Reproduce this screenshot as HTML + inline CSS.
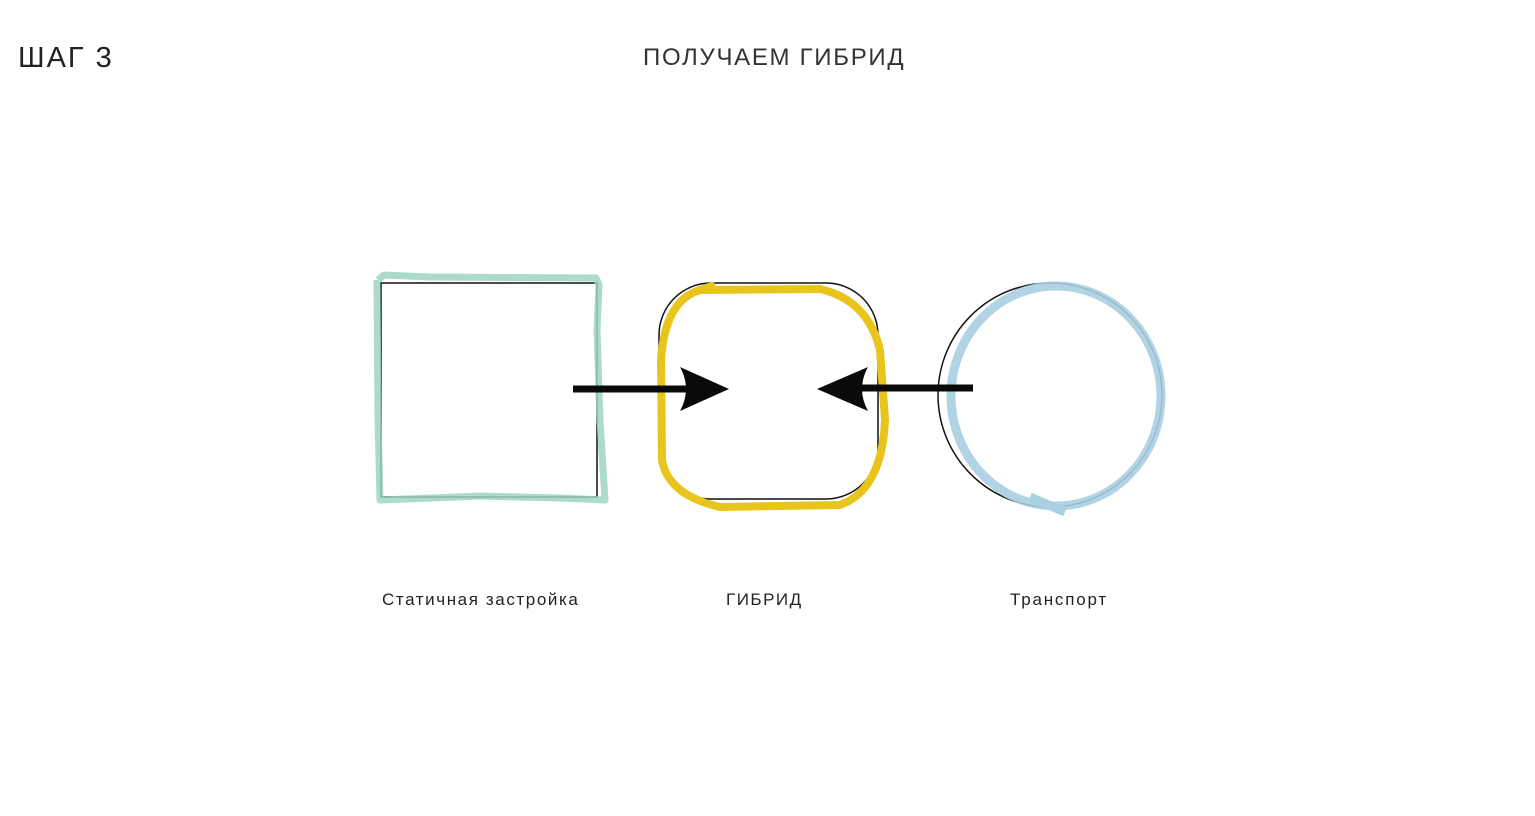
<!DOCTYPE html>
<html><head><meta charset="utf-8"><style>
body{margin:0;background:#fff;width:1535px;height:816px;overflow:hidden;font-family:"Liberation Sans",sans-serif;color:#222}
.t{position:absolute;white-space:nowrap}
</style></head><body>
<div class="t" style="left:18px;top:42px;font-size:29px;letter-spacing:2px;color:#222">ШАГ 3</div>
<div class="t" style="left:643px;top:44px;font-size:24px;letter-spacing:1.7px;color:#333">ПОЛУЧАЕМ ГИБРИД</div>
<div class="t" style="left:382px;top:590px;font-size:17px;letter-spacing:1.6px">Статичная застройка</div>
<div class="t" style="left:726px;top:590px;font-size:17px;letter-spacing:1.5px">ГИБРИД</div>
<div class="t" style="left:1010px;top:590px;font-size:17px;letter-spacing:1.8px">Транспорт</div>
<svg width="1535" height="816" style="position:absolute;left:0;top:0">
<path d="M381 283 H597 V497 H381 Z" fill="none" stroke="#111" stroke-width="1.5"/>
<path d="M378 280 L384 275 L430 277 L596 278 L599 285 L597 330 L600 420 L605 500 L560 498 L480 496 L380 500 L378 420 L377 280" fill="none" stroke="#9ed6bf" stroke-opacity="0.85" stroke-width="7" stroke-linejoin="round"/>
<rect x="659" y="283" width="219" height="216" rx="52" fill="none" stroke="#111" stroke-width="1.5"/>
<path d="M715 285 L700 290 L820 289 Q868 300 880 350 L885 420 Q882 490 840 505 L720 507 Q668 495 662 460 L661 360 Q665 300 700 290" fill="none" stroke="#e8c51d" stroke-width="8" stroke-linejoin="round"/>
<circle cx="1050" cy="395" r="112" fill="none" stroke="#111" stroke-width="1.5"/>
<ellipse cx="1056" cy="396" rx="105" ry="110" fill="none" stroke="#a9cfe2" stroke-opacity="0.9" stroke-width="9"/>
<path d="M1030 497 L1065 512" stroke="#a9cfe2" stroke-width="9"/>
<line x1="573" y1="389" x2="700" y2="389" stroke="#0a0a0a" stroke-width="7"/>
<path d="M729 389 L680 367 Q692 389 680 411 Z" fill="#0a0a0a"/>
<line x1="850" y1="388" x2="973" y2="388" stroke="#0a0a0a" stroke-width="7"/>
<path d="M817 389 L868 367 Q856 389 868 411 Z" fill="#0a0a0a"/>
</svg>
</body></html>
